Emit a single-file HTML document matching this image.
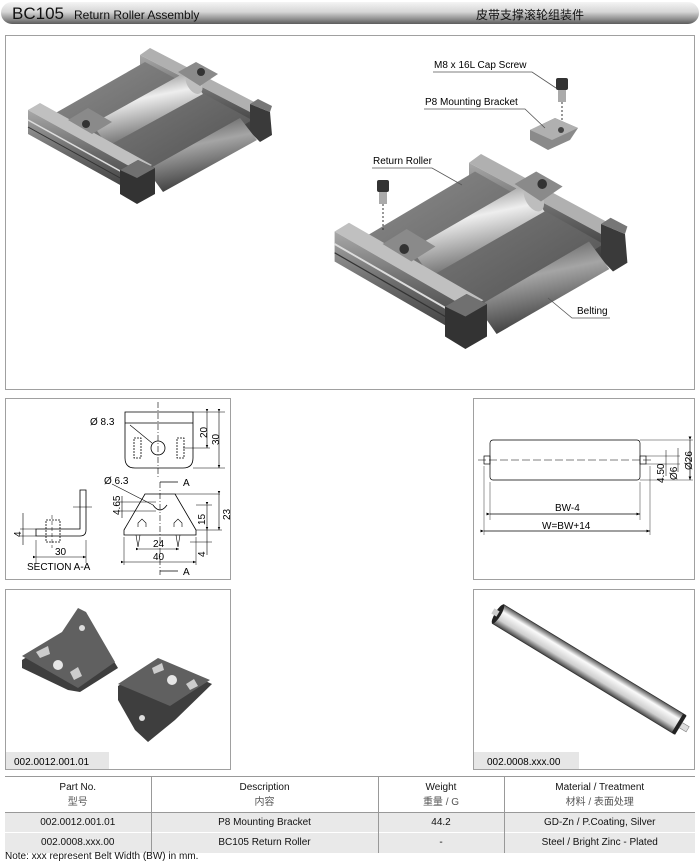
<!DOCTYPE html>
<html><head><meta charset="utf-8"><style>
html,body{margin:0;padding:0;background:#fff;}
body{width:700px;height:863px;position:relative;overflow:hidden;font-family:"Liberation Sans","Noto Sans CJK SC",sans-serif;}
.abs{position:absolute;}
table{border-collapse:collapse;}
</style></head><body>
<svg width="700" height="863" viewBox="0 0 700 863" xmlns="http://www.w3.org/2000/svg" style="position:absolute;left:0;top:0" font-family="Liberation Sans, Noto Sans CJK SC, sans-serif">
<defs>
<linearGradient id="hdr" x1="0" y1="0" x2="0" y2="1">
<stop offset="0" stop-color="#f4f4f4"/><stop offset="0.45" stop-color="#d6d6d6"/><stop offset="0.8" stop-color="#8a8a8a"/><stop offset="1" stop-color="#5c5c5c"/></linearGradient>
<linearGradient id="rollL" x1="0" y1="0" x2="0.3" y2="1">
<stop offset="0" stop-color="#5a5a5a"/><stop offset="0.45" stop-color="#eeeeee"/><stop offset="1" stop-color="#6a6a6a"/></linearGradient>
<linearGradient id="rollD" x1="0" y1="0" x2="0.3" y2="1">
<stop offset="0" stop-color="#444"/><stop offset="0.45" stop-color="#a5a5a5"/><stop offset="1" stop-color="#3a3a3a"/></linearGradient>
<linearGradient id="belt" x1="0" y1="0" x2="1" y2="1">
<stop offset="0" stop-color="#8c8c8c"/><stop offset="1" stop-color="#4e4e4e"/></linearGradient>
<linearGradient id="rail" x1="0" y1="0" x2="0" y2="1">
<stop offset="0" stop-color="#a8a8a8"/><stop offset="0.5" stop-color="#6a6a6a"/><stop offset="1" stop-color="#3a3a3a"/></linearGradient>
<linearGradient id="bigroll" x1="0" y1="0" x2="0" y2="1">
<stop offset="0" stop-color="#555"/><stop offset="0.3" stop-color="#fafafa"/><stop offset="0.7" stop-color="#cfcfcf"/><stop offset="1" stop-color="#444"/></linearGradient>
<marker id="ar" markerWidth="6" markerHeight="6" refX="5" refY="3" orient="auto"><path d="M0,1 L5,3 L0,5 z" fill="#000"/></marker>
<g id="conv">
<polygon points="140,55 150,48 262,106 252,113" fill="#b0b0b0"/>
<polygon points="140,55 252,113 252,132 140,74" fill="url(#rail)"/>
<polygon points="52,115 145,62 252,120 155,180" fill="url(#belt)"/>
<polygon points="250,104 270,112 272,135 260,142 250,132" fill="#3a3a3a"/>
<polygon points="250,104 258,99 272,106 270,112" fill="#777"/>
<polygon points="147,170 240,118 257,140 163,192" fill="url(#rollD)"/>
<polygon points="92,124 186,72 203,94 108,146" fill="url(#rollL)"/>
<ellipse cx="194" cy="83" rx="7" ry="12" transform="rotate(-30 194 83)" fill="#bdbdbd"/>
<polygon points="178,72 196,62 218,74 200,86" fill="#8a8a8a"/>
<circle cx="201" cy="72" r="4" fill="#333"/>
<polygon points="28,110 40,103 152,165 140,172" fill="#c0c0c0"/>
<polygon points="28,110 140,172 140,196 28,134" fill="url(#rail)"/>
<line x1="28" y1="120" x2="140" y2="182" stroke="#ddd" stroke-width="1.5"/>
<line x1="28" y1="127" x2="140" y2="189" stroke="#333" stroke-width="1"/>
<polygon points="68,120 88,108 112,122 92,134" fill="#8a8a8a"/>
<circle cx="86" cy="124" r="4" fill="#333"/>
<polygon points="120,170 138,160 155,168 155,194 137,204 120,194" fill="#333"/>
<polygon points="120,170 138,160 155,168 137,178" fill="#707070"/>
</g>
</defs>

<rect x="1" y="2" width="698" height="22" rx="11" fill="url(#hdr)"/>
<text x="12" y="19" font-size="17" fill="#111">BC105</text>
<text x="74" y="19" font-size="12" fill="#111">Return Roller Assembly</text>
<text x="476" y="19" font-size="12" fill="#111">皮带支撑滚轮组装件</text>

<rect x="5.5" y="35.5" width="689" height="354" fill="#fff" stroke="#a0a0a0"/>
<use href="#conv"/>
<g transform="translate(301,94) scale(1.2,1.25)"><use href="#conv"/></g>
<rect x="556" y="78" width="12" height="12" rx="2" fill="#333"/><rect x="558" y="90" width="8" height="12" fill="#aaa"/>
<line x1="562" y1="102" x2="562" y2="122" stroke="#333" stroke-dasharray="2,2"/>
<polygon points="530,130 555,118 578,128 570,140 548,150 530,140" fill="#8a8a8a"/>
<polygon points="530,130 555,118 578,128 552,140" fill="#b0b0b0"/>
<circle cx="561" cy="130" r="3" fill="#444"/>
<rect x="377" y="180" width="12" height="12" rx="2" fill="#333"/><rect x="379" y="192" width="8" height="12" fill="#aaa"/>
<line x1="383" y1="204" x2="383" y2="230" stroke="#333" stroke-dasharray="2,2"/>
<text x="434" y="68" font-size="10">M8 x 16L Cap Screw</text>
<polyline points="433,72 532,72 556,88" fill="none" stroke="#555" stroke-width="0.8"/>
<text x="425" y="105" font-size="10">P8 Mounting Bracket</text>
<polyline points="424,109 525,109 545,128" fill="none" stroke="#555" stroke-width="0.8"/>
<text x="373" y="164" font-size="10">Return Roller</text>
<polyline points="372,168 432,168 462,185" fill="none" stroke="#555" stroke-width="0.8"/>
<text x="577" y="314" font-size="10">Belting</text>
<polyline points="610,318 572,318 548,298" fill="none" stroke="#555" stroke-width="0.8"/>

<rect x="5.5" y="398.5" width="225" height="181" fill="#fff" stroke="#a0a0a0"/>
<g stroke="#000" stroke-width="0.8" fill="none" font-size="10">
<path d="M125,412 H193 V458 Q193,468 183,468 H135 Q125,468 125,458 Z"/>
<line x1="125" y1="423" x2="193" y2="423"/>
<line x1="158" y1="402" x2="158" y2="478" stroke-dasharray="6,2,1,2" stroke-width="0.6"/>
<circle cx="158" cy="448" r="7"/>
<rect x="134" y="438" width="7" height="20" stroke-dasharray="2,1"/>
<rect x="177" y="438" width="7" height="20" stroke-dasharray="2,1"/>
<line x1="130" y1="425" x2="152" y2="443" stroke-width="0.6"/>
<line x1="193" y1="412" x2="225" y2="412" stroke-width="0.5"/>
<line x1="183" y1="448" x2="210" y2="448" stroke-width="0.5"/>
<line x1="193" y1="468" x2="225" y2="468" stroke-width="0.5"/>
<line x1="207" y1="412" x2="207" y2="448" marker-start="url(#ar)" marker-end="url(#ar)" stroke-width="0.6"/>
<line x1="219" y1="412" x2="219" y2="468" marker-start="url(#ar)" marker-end="url(#ar)" stroke-width="0.6"/>
<path d="M124,530 L145,494 H175 L196,530 V535 H124 Z"/>
<path d="M153,505 Q160,515 167,505"/>
<line x1="160" y1="482" x2="160" y2="575" stroke-dasharray="6,2,1,2" stroke-width="0.6"/>
<line x1="160" y1="482" x2="178" y2="482"/><text x="183" y="486" stroke="none" fill="#000">A</text>
<line x1="160" y1="571" x2="178" y2="571"/><text x="183" y="575" stroke="none" fill="#000">A</text>
<path d="M138,527 l0,-4 l4,-4 l4,4 v4 M174,527 l0,-4 l4,-4 l4,4 v4" stroke-width="0.6"/>
<path d="M136,535 l2,12 l2,-12 M176,535 l2,12 l2,-12" stroke-width="0.6"/>
<line x1="175" y1="494" x2="220" y2="494" stroke-width="0.5"/>
<line x1="196" y1="530" x2="222" y2="530" stroke-width="0.5"/>
<line x1="196" y1="505" x2="212" y2="505" stroke-width="0.5"/>
<line x1="190" y1="542" x2="212" y2="542" stroke-width="0.5"/>
<line x1="219" y1="494" x2="219" y2="530" marker-start="url(#ar)" marker-end="url(#ar)" stroke-width="0.6"/>
<line x1="207" y1="505" x2="207" y2="530" marker-start="url(#ar)" marker-end="url(#ar)" stroke-width="0.6"/>
<line x1="207" y1="530" x2="207" y2="555" stroke-width="0.6"/>
<line x1="118" y1="502" x2="156" y2="502" stroke-width="0.5"/>
<line x1="118" y1="511" x2="156" y2="511" stroke-width="0.5"/>
<line x1="122" y1="496" x2="122" y2="518" stroke-width="0.6"/>
<line x1="139" y1="549" x2="179" y2="549" marker-start="url(#ar)" marker-end="url(#ar)" stroke-width="0.6"/>
<line x1="124" y1="562" x2="196" y2="562" marker-start="url(#ar)" marker-end="url(#ar)" stroke-width="0.6"/>
<line x1="124" y1="537" x2="124" y2="565" stroke-width="0.5"/>
<line x1="196" y1="537" x2="196" y2="565" stroke-width="0.5"/>
<line x1="112" y1="484" x2="153" y2="505" stroke-width="0.6"/>
<path d="M80,490 H86 V530 Q86,536 80,536 H36 V529 H80 Z"/>
<rect x="46" y="520" width="14" height="22" stroke-dasharray="2,1"/>
<line x1="52" y1="515" x2="52" y2="548" stroke-dasharray="4,2" stroke-width="0.5"/>
<line x1="73" y1="507" x2="92" y2="507" stroke-width="0.5"/>
<line x1="23" y1="513" x2="23" y2="545" stroke-width="0.6"/>
<line x1="20" y1="529" x2="36" y2="529" stroke-width="0.5"/>
<line x1="20" y1="536" x2="36" y2="536" stroke-width="0.5"/>
<line x1="36" y1="540" x2="36" y2="563" stroke-width="0.5"/>
<line x1="86" y1="540" x2="86" y2="563" stroke-width="0.5"/>
<line x1="36" y1="557" x2="86" y2="557" marker-start="url(#ar)" marker-end="url(#ar)" stroke-width="0.6"/>
</g>
<g font-size="10" fill="#000">
<text x="90" y="425">Ø 8.3</text>
<text x="104" y="484">Ø 6.3</text>
<text transform="translate(207,438) rotate(-90)">20</text>
<text transform="translate(219,445) rotate(-90)">30</text>
<text transform="translate(120,515) rotate(-90)">4.65</text>
<text transform="translate(230,520) rotate(-90)">23</text>
<text transform="translate(205,525) rotate(-90)">15</text>
<text transform="translate(205,557) rotate(-90)">4</text>
<text transform="translate(21,537) rotate(-90)">4</text>
<text x="153" y="547">24</text>
<text x="153" y="560">40</text>
<text x="55" y="555">30</text>
<text x="27" y="570">SECTION A-A</text>
</g>

<rect x="473.5" y="398.5" width="221" height="181" fill="#fff" stroke="#a0a0a0"/>
<g stroke="#000" stroke-width="0.7" fill="none">
<rect x="490" y="440" width="150" height="40" rx="3"/>
<rect x="484" y="456" width="6" height="8"/>
<rect x="640" y="456" width="6" height="8"/>
<line x1="478" y1="460" x2="652" y2="460" stroke-dasharray="8,3" stroke-width="0.5"/>
<line x1="640" y1="440" x2="693" y2="440" stroke-width="0.4"/>
<line x1="640" y1="480" x2="693" y2="480" stroke-width="0.4"/>
<line x1="646" y1="456" x2="680" y2="456" stroke-width="0.4"/>
<line x1="646" y1="464" x2="680" y2="464" stroke-width="0.4"/>
<line x1="690" y1="440" x2="690" y2="480" marker-start="url(#ar)" marker-end="url(#ar)"/>
<line x1="678" y1="448" x2="678" y2="472" stroke-width="0.5"/>
<line x1="666" y1="450" x2="666" y2="476" stroke-width="0.5"/>
<line x1="490" y1="482" x2="490" y2="520" stroke-width="0.4"/>
<line x1="640" y1="482" x2="640" y2="520" stroke-width="0.4"/>
<line x1="484" y1="466" x2="484" y2="535" stroke-width="0.4"/>
<line x1="650" y1="466" x2="650" y2="535" stroke-width="0.4"/>
<line x1="490" y1="514" x2="640" y2="514" marker-start="url(#ar)" marker-end="url(#ar)"/>
<line x1="484" y1="531" x2="650" y2="531" marker-start="url(#ar)" marker-end="url(#ar)"/>
</g>
<g font-size="10" fill="#000">
<text x="555" y="511">BW-4</text>
<text x="542" y="529">W=BW+14</text>
<text transform="translate(664,483) rotate(-90)">4.50</text>
<text transform="translate(677,480) rotate(-90)">Ø6</text>
<text transform="translate(692,470) rotate(-90)">Ø26</text>
</g>

<rect x="5.5" y="589.5" width="225" height="180" fill="#fff" stroke="#a0a0a0"/>
<polygon points="22,660 62,635 78,612 88,618 118,668 80,692 68,690 22,668" fill="#3e3e3e"/>
<polygon points="22,656 62,632 78,608 86,612 115,662 78,688" fill="#606060"/>
<circle cx="82" cy="628" r="3" fill="#ddd"/><circle cx="58" cy="665" r="5" fill="#e6e6e6"/>
<polygon points="36,652 48,646 50,654 40,658" fill="#ccc"/><polygon points="70,672 78,667 82,676 74,680" fill="#ccc"/>
<polygon points="118,686 158,660 212,684 175,720 148,742 135,730 118,700" fill="#3e3e3e"/>
<polygon points="118,684 158,658 210,680 170,706" fill="#606060"/>
<circle cx="172" cy="680" r="5" fill="#e6e6e6"/><circle cx="142" cy="718" r="3" fill="#ddd"/>
<polygon points="152,668 162,663 164,670 154,674" fill="#ccc"/><polygon points="186,684 194,679 198,686 190,690" fill="#ccc"/>
<rect x="6" y="752" width="103" height="17" fill="#e6e6e6"/>
<text x="14" y="765" font-size="10">002.0012.001.01</text>

<rect x="473.5" y="589.5" width="221" height="180" fill="#fff" stroke="#a0a0a0"/>
<g transform="translate(498,614) rotate(31.3)">
<rect x="0" y="-11" width="213" height="22" fill="url(#bigroll)" stroke="#333" stroke-width="0.8"/>
<ellipse cx="0" cy="0" rx="3" ry="11" fill="#222"/>
<rect x="-6" y="-3" width="6" height="6" fill="#ccc"/>
<rect x="210" y="-11" width="4" height="22" fill="#222"/>
<rect x="214" y="-3" width="8" height="6" fill="#ddd" stroke="#777" stroke-width="0.5"/>
</g>
<rect x="474" y="752" width="105" height="17" fill="#e6e6e6"/>
<text x="487" y="765" font-size="10">002.0008.xxx.00</text>
</svg>

<table class="abs" style="left:5px;top:776px;width:690px;font-size:10px;text-align:center;color:#111;">
<colgroup><col style="width:146px"><col style="width:227px"><col style="width:126px"><col style="width:191px"></colgroup>
<tr style="height:36px;border-top:1px solid #999;border-bottom:1px solid #999;">
<td style="border-right:1px solid #999;line-height:15px">Part No.<br><span style="color:#555">型号</span></td>
<td style="border-right:1px solid #999;line-height:15px">Description<br><span style="color:#555">内容</span></td>
<td style="border-right:1px solid #999;line-height:15px">Weight<br><span style="color:#555">重量 / G</span></td>
<td style="line-height:15px">Material / Treatment<br><span style="color:#555">材料 / 表面处理</span></td></tr>
<tr style="height:20px;background:#e9e9e9;border-bottom:1px solid #fff;">
<td style="border-right:1px solid #999">002.0012.001.01</td><td style="border-right:1px solid #999">P8 Mounting Bracket</td><td style="border-right:1px solid #999">44.2</td><td>GD-Zn / P.Coating, Silver</td></tr>
<tr style="height:20px;background:#e9e9e9;">
<td style="border-right:1px solid #999">002.0008.xxx.00</td><td style="border-right:1px solid #999">BC105 Return Roller</td><td style="border-right:1px solid #999">-</td><td>Steel / Bright Zinc - Plated</td></tr>
</table>
<div class="abs" style="left:5px;top:851px;font-size:10px;color:#111">Note: xxx represent Belt Width (BW) in mm.</div>
</body></html>
